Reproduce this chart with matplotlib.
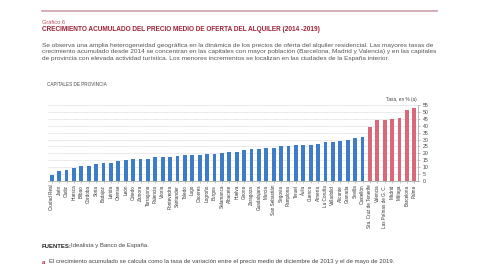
import matplotlib
matplotlib.use("Agg")
import matplotlib.pyplot as plt
import numpy as np

plt.rcParams['font.family'] = ['Liberation Sans', 'DejaVu Sans']

cities = ["Ciudad Real", "Jaén", "Cádiz", "Huesca", "Bilbao", "Córdoba", "Soria",
          "Badajoz", "Lérida", "Orense", "León", "Oviedo", "Zamora", "Tarragona",
          "Palencia", "Vitoria", "Pontevedra", "Santander", "Toledo", "Lugo",
          "Cáceres", "Logroño", "Burgos", "Salamanca", "Albacete", "Huelva",
          "Girona", "Zaragoza", "Guadalajara", "Murcia", "San Sebastián", "Segovia",
          "Pamplona", "Teruel", "Ávila", "Cuenca", "Almería", "La Coruña",
          "Valladolid", "Alicante", "Granada", "Sevilla", "Castellón",
          "Sta. Cruz de Tenerife", "Valencia", "Las Palmas de G. C.", "Madrid",
          "Málaga", "Barcelona", "Palma"]
growth = [4.4, 7.1, 8.3, 9.3, 10.8, 11.2, 12.5, 13.0, 13.2, 14.7, 14.9, 15.6, 15.6,
          15.6, 17.4, 17.4, 17.6, 18.3, 18.6, 18.8, 18.8, 19.3, 19.6, 20.0, 21.0,
          21.3, 22.7, 23.0, 23.5, 24.0, 24.0, 25.4, 25.4, 25.7, 25.9, 26.2, 26.9,
          28.4, 28.4, 28.9, 29.6, 30.8, 32.0, 39.4, 44.5, 44.5, 44.7, 45.7, 51.1, 52.6]
highlight_from = "Sta. Cruz de Tenerife"
yticks = list(range(0, 56, 5))

BLUE = "#3d7cc6"
RED = "#d9687a"
W, H = 480, 270

fig = plt.figure(figsize=(4.8, 2.7), dpi=100)

def fx(x):
    return x / W

def fy(y):
    return 1 - y / H

# Top rule
fig.add_artist(plt.Line2D([fx(42), fx(437)], [fy(11), fy(11)], color="#c9a3aa", lw=1.2))

fig.text(fx(42), fy(22), "Gráfico 6", fontsize=4.1, color="#b5515e", va="center")
fig.text(fx(42), fy(29.5),
         "CRECIMIENTO ACUMULADO DEL PRECIO MEDIO DE OFERTA DEL ALQUILER (2014 -2019)",
         fontsize=4.7, color="#9e2236", fontweight="bold", va="center")

para = [
    "Se observa una amplia heterogeneidad geográfica en la dinámica de los precios de oferta del alquiler residencial. Las mayores tasas de",
    "crecimiento acumulado desde 2014 se concentran en las capitales con mayor población (Barcelona, Madrid y Valencia) y en las capitales",
    "de provincia con elevada actividad turística. Los menores incrementos se localizan en las ciudades de la España interior.",
]
for i, line in enumerate(para):
    fig.text(fx(42), fy(45 + i * 6.6), line, fontsize=4.66, color="#555555", va="center")

fig.text(fx(47), fy(84), "CAPITALES DE PROVINCIA", fontsize=3.3, color="#444444", va="center")

ax = fig.add_axes([fx(48), fy(181), fx(418) - fx(48), fy(105) - fy(181)])
x = np.arange(len(cities))
idx = cities.index(highlight_from)
colors = [BLUE if i < idx else RED for i in range(len(cities))]
ax.bar(x, growth, width=0.52, color=colors, zorder=3)
ax.set_xlim(-0.5, len(cities) - 0.5)
ax.set_ylim(0, 55)
ax.set_yticks(yticks)
ax.yaxis.tick_right()
ax.tick_params(axis="y", labelsize=3.7, labelcolor="#444444", length=1.5, width=0.4,
               color="#999999", pad=2)
ax.set_xticks(x)
ax.set_xticklabels(cities, rotation=90, fontsize=3.3, color="#333333")
ax.tick_params(axis="x", length=1.2, width=0.4, color="#999999", pad=1.5)
for t in yticks[1:]:
    ax.axhline(t, color="#bbbbbb", lw=0.4, ls=(0, (1, 1)), zorder=1)
for s in ["top", "left"]:
    ax.spines[s].set_visible(False)
ax.spines["right"].set_color("#999999")
ax.spines["right"].set_linewidth(0.5)
ax.spines["bottom"].set_color("#999999")
ax.spines["bottom"].set_linewidth(0.5)

fig.text(fx(417), fy(99), "Tasa, en % (a)", fontsize=3.4, color="#444444", ha="right", va="center")

fig.text(fx(42), fy(246), "FUENTES:", fontsize=4.3, color="#222222", fontweight="bold", va="center")
fig.text(fx(71), fy(246), "Idealista y Banco de España.", fontsize=4.3, color="#444444", va="center")
fig.text(fx(42), fy(262), "a", fontsize=4.3, color="#9e2236", fontweight="bold", va="center")
fig.text(fx(49), fy(262),
         "El crecimiento acumulado se calcula como la tasa de variación entre el precio medio de diciembre de 2013 y el de mayo de 2019.",
         fontsize=4.3, color="#444444", va="center")

fig.savefig("out.png", dpi=100, facecolor="white")
